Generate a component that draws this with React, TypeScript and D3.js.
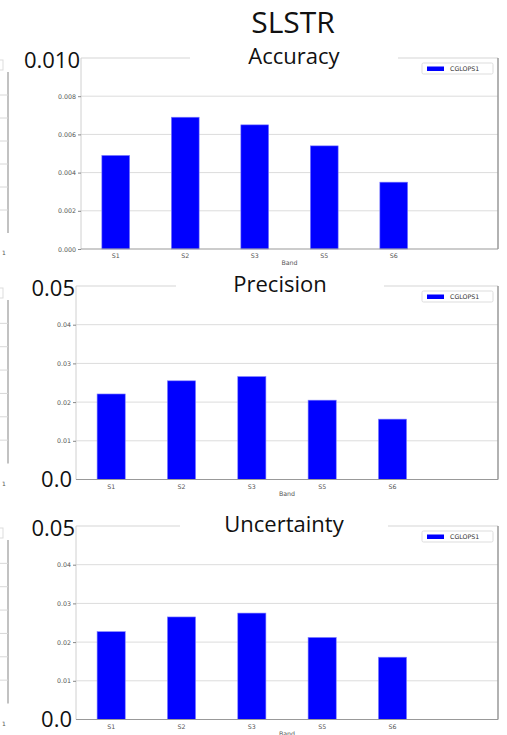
import React, { useEffect, useRef } from 'react';
import * as d3 from 'd3';

const bands = ["S1", "S2", "S3", "S5", "S6"];
const accuracy = [0.0049, 0.0069, 0.0065, 0.0054, 0.0035];
const precision = [0.0221, 0.0255, 0.0266, 0.0205, 0.0156];
const uncertainty = [0.0227, 0.0265, 0.0275, 0.0212, 0.0161];
const accuracyTicks = [0, 0.002, 0.004, 0.006, 0.008];
const smallTicks = [0.01, 0.02, 0.03, 0.04];
const seriesName = "CGLOPS1";

const panels = [
  { title: "Accuracy", values: accuracy, ticks: accuracyTicks, fmt: ".3f", yMax: 0.01,
    top: 58, bottom: 249, left: 81, bigTop: "0.010", bigBottom: "", boxX: [190, 398] },
  { title: "Precision", values: precision, ticks: smallTicks, fmt: ".2f", yMax: 0.05,
    top: 286, bottom: 479.5, left: 76, bigTop: "0.05", bigBottom: "0.0", boxX: [176, 384] },
  { title: "Uncertainty", values: uncertainty, ticks: smallTicks, fmt: ".2f", yMax: 0.05,
    top: 526, bottom: 719.5, left: 76, bigTop: "0.05", bigBottom: "0.0", boxX: [180, 388] },
];

const W = 507, H = 735;
const RIGHT = 498;
const BIG_FONT = "'Open Sans', sans-serif";
const SMALL_FONT = "'DejaVu Sans', sans-serif";

export default function App() {
  const svgRef = useRef(null);

  useEffect(() => {
    const svg = d3.select(svgRef.current);
    svg.selectAll("*").remove();

    svg.append("rect").attr("width", W).attr("height", H).attr("fill", "#fff");

    // main title
    svg.append("text")
      .attr("x", 293).attr("y", 33)
      .attr("text-anchor", "middle")
      .style("font-family", BIG_FONT).style("font-size", "30px")
      .attr("fill", "#111")
      .text("SLSTR");

    panels.forEach((p) => {
      const g = svg.append("g");
      const x = d3.scaleLinear().domain([-0.5, 5.5]).range([p.left, RIGHT]);
      const y = d3.scaleLinear().domain([0, p.yMax]).range([p.bottom, p.top]);
      const bw = x(0.2) - x(-0.2);

      // sliver of the neighbouring panel on the left edge
      const sl = g.append("g");
      sl.append("line")
        .attr("x1", 8).attr("x2", 8)
        .attr("y1", p.top + 14).attr("y2", p.bottom - 16)
        .attr("stroke", "#999").attr("stroke-width", 1.2);
      d3.range(1, 7).forEach((i) => {
        const yy = p.top + 14 + i * (p.bottom - p.top - 30) / 7;
        sl.append("line").attr("x1", 0).attr("x2", 8).attr("y1", yy).attr("y2", yy)
          .attr("stroke", "#d8d8d8");
      });
      sl.append("rect").attr("x", -10).attr("y", p.top + 2).attr("width", 13).attr("height", 10)
        .attr("fill", "#fff").attr("stroke", "#ddd");
      sl.append("text").attr("x", 2).attr("y", p.bottom + 6)
        .style("font-family", SMALL_FONT).style("font-size", "6px").attr("fill", "#555").text("1");

      // gridlines
      g.selectAll(".grid").data(p.ticks.filter((t) => t > 0)).enter().append("line")
        .attr("x1", p.left).attr("x2", RIGHT)
        .attr("y1", (d) => y(d)).attr("y2", (d) => y(d))
        .attr("stroke", "#dcdcdc").attr("stroke-width", 1);

      // frame
      g.append("line").attr("x1", p.left).attr("x2", RIGHT).attr("y1", p.top).attr("y2", p.top)
        .attr("stroke", "#d5d5d5");
      g.append("line").attr("x1", p.left).attr("x2", p.left).attr("y1", p.top).attr("y2", p.bottom)
        .attr("stroke", "#d0d0d0");
      g.append("line").attr("x1", RIGHT).attr("x2", RIGHT).attr("y1", p.top).attr("y2", p.bottom)
        .attr("stroke", "#999").attr("stroke-width", 1.5);

      // bars
      g.selectAll(".bar").data(p.values).enter().append("rect")
        .attr("x", (d, i) => x(i) - bw / 2)
        .attr("y", (d) => y(d))
        .attr("width", bw)
        .attr("height", (d) => y(0) - y(d))
        .attr("fill", "#0000ff")
        .attr("stroke", "#8080ff").attr("stroke-width", 0.6);

      g.append("line").attr("x1", p.left).attr("x2", RIGHT).attr("y1", p.bottom).attr("y2", p.bottom)
        .attr("stroke", "#999");

      // y axis ticks
      const yAxis = d3.axisLeft(y).tickValues(p.ticks).tickFormat(d3.format(p.fmt))
        .tickSize(3).tickPadding(2);
      const ya = g.append("g").attr("transform", `translate(${p.left},0)`).call(yAxis);
      ya.select(".domain").remove();
      ya.selectAll("line").attr("stroke", "#888");
      ya.selectAll("text").style("font-family", SMALL_FONT).style("font-size", "6.3px").attr("fill", "#555");

      // x axis labels
      g.selectAll(".xl").data(bands).enter().append("text")
        .attr("x", (d, i) => x(i)).attr("y", p.bottom + 9)
        .attr("text-anchor", "middle")
        .style("font-family", SMALL_FONT).style("font-size", "6.3px").attr("fill", "#555")
        .text((d) => d);
      g.append("text")
        .attr("x", (p.left + RIGHT) / 2).attr("y", p.bottom + 16)
        .attr("text-anchor", "middle")
        .style("font-family", SMALL_FONT).style("font-size", "6.3px").attr("fill", "#555")
        .text("Band");

      // legend
      const lg = g.append("g").attr("transform", `translate(422,${p.top + 5})`);
      lg.append("rect").attr("width", 71).attr("height", 11).attr("rx", 1.5)
        .attr("fill", "#fff").attr("stroke", "#ddd");
      lg.append("rect").attr("x", 5).attr("y", 3.5).attr("width", 17).attr("height", 4.5)
        .attr("fill", "#0000ff");
      lg.append("text").attr("x", 28).attr("y", 8)
        .style("font-family", SMALL_FONT).style("font-size", "6.3px").attr("fill", "#333")
        .text(seriesName);

      // title with white backdrop
      g.append("rect")
        .attr("x", p.boxX[0]).attr("y", p.top - 14)
        .attr("width", p.boxX[1] - p.boxX[0]).attr("height", 26)
        .attr("fill", "#fff");
      g.append("text")
        .attr("x", (p.boxX[0] + p.boxX[1]) / 2).attr("y", p.top + 6)
        .attr("text-anchor", "middle")
        .style("font-family", BIG_FONT).style("font-size", "22px").attr("fill", "#111")
        .text(p.title);

      // oversized overlay tick labels
      g.append("text")
        .attr("x", p.left - 1).attr("y", p.top + 10)
        .attr("text-anchor", "end")
        .style("font-family", BIG_FONT).style("font-size", "22px").attr("fill", "#111")
        .text(p.bigTop);
      if (p.bigBottom) {
        g.append("rect").attr("x", p.left - 32).attr("y", p.bottom - 12).attr("width", 30).attr("height", 16)
          .attr("fill", "#fff");
        g.append("text")
          .attr("x", p.left - 4).attr("y", p.bottom + 7)
          .attr("text-anchor", "end")
          .style("font-family", BIG_FONT).style("font-size", "22px").attr("fill", "#111")
          .text(p.bigBottom);
      }
    });
  }, []);

  return (
    <svg ref={svgRef} width={W} height={H}
      style={{ position: "absolute", left: 0, top: 0, display: "block" }} />
  );
}
